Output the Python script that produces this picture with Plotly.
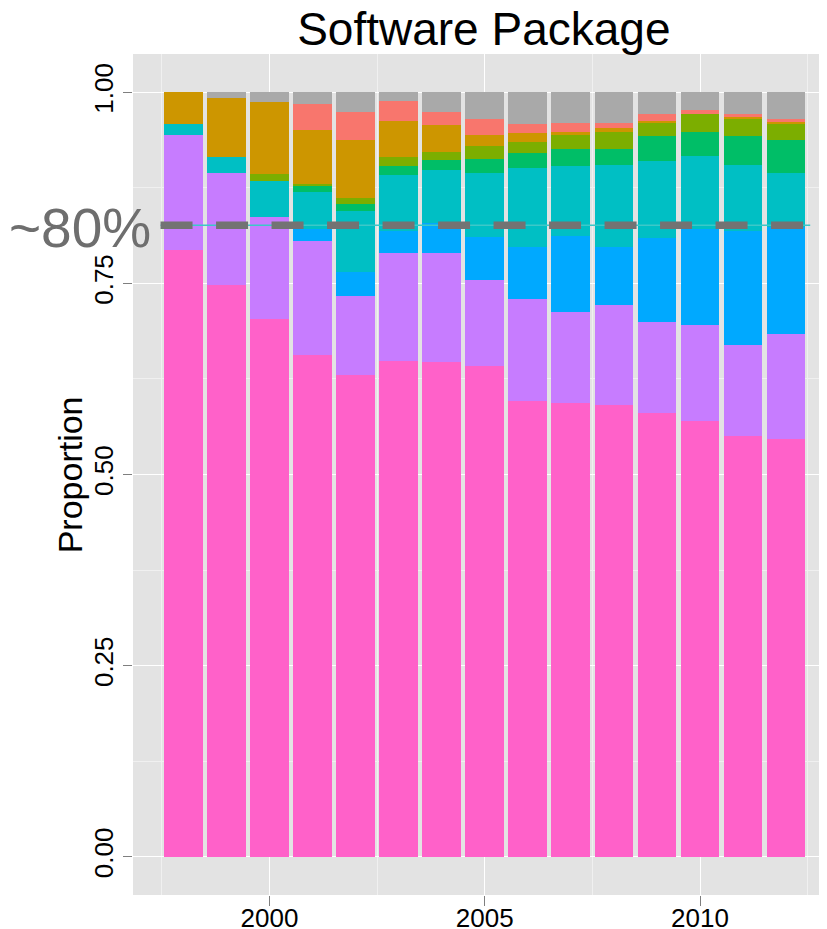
import plotly.graph_objects as go

years = list(range(1998, 2013))

# proportions per package (bottom to top of each stack)
pink   = [0.794, 0.748, 0.704, 0.656, 0.630, 0.648, 0.647, 0.642, 0.596, 0.594, 0.591, 0.581, 0.570, 0.551, 0.546]
purple = [0.150, 0.147, 0.133, 0.150, 0.103, 0.142, 0.143, 0.113, 0.134, 0.118, 0.131, 0.119, 0.126, 0.119, 0.138]
blue   = [0.000, 0.000, 0.000, 0.015, 0.032, 0.028, 0.039, 0.055, 0.068, 0.100, 0.076, 0.109, 0.125, 0.148, 0.140]
teal   = [0.014, 0.020, 0.047, 0.049, 0.080, 0.074, 0.069, 0.084, 0.103, 0.091, 0.107, 0.101, 0.095, 0.087, 0.071]
green  = [0.000, 0.000, 0.000, 0.007, 0.009, 0.011, 0.014, 0.019, 0.020, 0.023, 0.021, 0.033, 0.032, 0.038, 0.043]
olive  = [0.000, 0.000, 0.009, 0.003, 0.008, 0.012, 0.010, 0.017, 0.014, 0.018, 0.022, 0.018, 0.023, 0.022, 0.020]
gold   = [0.042, 0.078, 0.094, 0.070, 0.075, 0.047, 0.035, 0.014, 0.012, 0.004, 0.005, 0.002, 0.000, 0.002, 0.003]
salmon = [0.000, 0.000, 0.000, 0.034, 0.037, 0.026, 0.017, 0.021, 0.012, 0.012, 0.007, 0.008, 0.006, 0.004, 0.004]
gray   = [0.000, 0.007, 0.013, 0.016, 0.026, 0.012, 0.026, 0.035, 0.041, 0.040, 0.040, 0.029, 0.023, 0.029, 0.035]

series = [
    ("Package 1", pink, "#FF61C9"),
    ("Package 2", purple, "#C77CFF"),
    ("Package 3", blue, "#00A9FF"),
    ("Package 4", teal, "#00BFC4"),
    ("Package 5", green, "#00BE67"),
    ("Package 6", olive, "#7CAE00"),
    ("Package 7", gold, "#CD9600"),
    ("Package 8", salmon, "#F8766D"),
    ("Other", gray, "#A9A9A9"),
]

THRESHOLD = 0.826
LINE_X = [1997.47, 2012.56]
y_ticks = [0, 0.25, 0.5, 0.75, 1.0]
y_ticktext = ["0.00", "0.25", "0.50", "0.75", "1.00"]
x_ticks = [2000, 2005, 2010]

FONT = "Liberation Sans, Arial, Helvetica"

fig = go.Figure()
for name, vals, col in series:
    fig.add_trace(go.Bar(x=years, y=vals, name=name, marker=dict(color=col, line=dict(width=0)),
                         width=0.9, showlegend=False))

fig.add_trace(go.Scatter(x=LINE_X, y=[THRESHOLD, THRESHOLD], mode="lines",
                         line=dict(color="#3CC8C8", width=1.5), showlegend=False, hoverinfo="skip"))
fig.add_trace(go.Scatter(x=LINE_X, y=[THRESHOLD, THRESHOLD], mode="lines",
                         line=dict(color="#737373", width=7.5, dash="32px,23.5px"),
                         showlegend=False, hoverinfo="skip"))

fig.add_annotation(x=1997.3, y=THRESHOLD - 0.004, xref="x", yref="y", text="~80%",
                   showarrow=False, xanchor="right", yanchor="middle",
                   font=dict(family=FONT, size=55, color="#6E6E6E"))

# y-axis title placed as rotated annotation
fig.add_annotation(x=-0.091, y=0.5, xref="paper", yref="paper", text="Proportion",
                   showarrow=False, xanchor="center", yanchor="middle", textangle=-90,
                   font=dict(family=FONT, size=34, color="black"))

fig.update_layout(
    barmode="stack",
    width=819, height=921,
    margin=dict(l=125, r=0, t=46, b=34),
    paper_bgcolor="white",
    plot_bgcolor="#E3E3E3",
    font=dict(family=FONT, color="black"),
    title=dict(text="Software Package", x=0.581, xanchor="center", y=0.977, yanchor="middle",
               font=dict(size=46, color="black")),
    bargap=0,
)
fig.update_xaxes(range=[1996.83, 2012.95], tickvals=x_ticks, ticks="outside", ticklen=10,
                 tickcolor="#7F7F7F", tickwidth=1.2, tickfont=dict(size=26, color="black"),
                 ticklabelstandoff=-10,
                 showgrid=True, gridcolor="white", gridwidth=1.4, zeroline=False, showline=False,
                 automargin=False,
                 minor=dict(tickvals=[1997.5, 2002.5, 2007.5, 2012.5], showgrid=True,
                            gridcolor="#F0F0F0", gridwidth=0.8, ticks=""))
fig.update_yaxes(range=[-0.05, 1.05], tickvals=y_ticks, ticktext=y_ticktext, ticks="outside",
                 ticklen=9, tickcolor="#7F7F7F", tickwidth=1.2, tickangle=-90,
                 tickfont=dict(size=26, color="black"), automargin=False,
                 showgrid=True, gridcolor="white", gridwidth=1.4, zeroline=False, showline=False,
                 minor=dict(tickvals=[0.125, 0.375, 0.625, 0.875], showgrid=True,
                            gridcolor="#F0F0F0", gridwidth=0.8, ticks=""))

fig.write_html("out.html")
